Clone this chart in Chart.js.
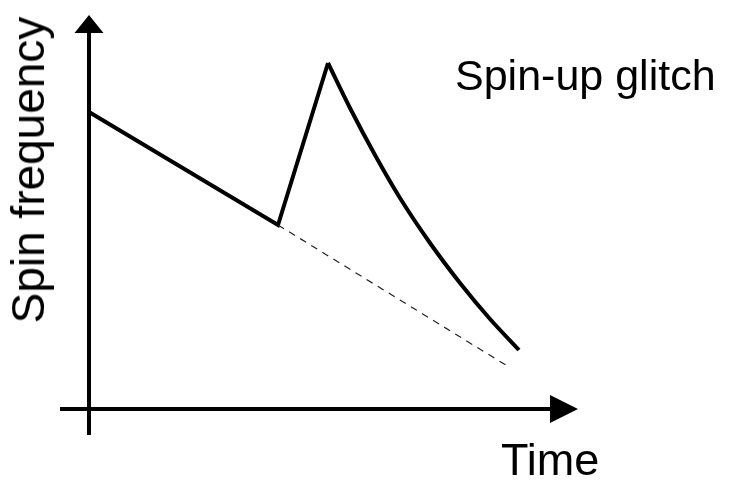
<!DOCTYPE html>
<html>
<head>
<meta charset="utf-8">
<title>Spin-up glitch</title>
<script src="https://cdn.jsdelivr.net/npm/chart.js@4/dist/chart.umd.min.js"></script>
<style>
    html, body { margin: 0; padding: 0; background: #fff; }
    .wrap { position: relative; width: 748px; height: 480px; font-family: 'Liberation Sans', Arial, sans-serif; color: #000; }
    .wrap canvas { position: absolute; left: 0; top: 0; }
    .lbl { position: absolute; font-size: 43px; line-height: 1; white-space: nowrap; }
    #lblGlitch { left: 455px; top: 54px; }
    #lblTime { left: 501px; top: 437px; font-size: 45px; }
    #lblFreq { left: 28px; top: 170px; font-size: 46px; transform: translate(-50%, -50%) rotate(-90deg); }
</style>
</head>
<body>
<div class="wrap">
    <canvas id="glitchChart" width="748" height="480"></canvas>
    <div class="lbl" id="lblGlitch">Spin-up glitch</div>
    <div class="lbl" id="lblTime">Time</div>
    <div class="lbl" id="lblFreq">Spin frequency</div>
</div>
<script>
// values in arbitrary units, origin where the two axes cross
const spinDown = [{ x: 0, y: 297 }, { x: 189, y: 184 }];
const glitchRise = [{ x: 189, y: 184 }, { x: 239, y: 346 }];
const recoveryT = [239, 261, 286, 311, 341, 371, 401, 430];
const recoveryF = [346, 301, 254, 211, 166, 126, 90, 59];
const extrapolated = [{ x: 189, y: 184 }, { x: 420, y: 42 }];
const timeAxis = [{ x: -29, y: 0 }, { x: 462, y: 0 }];
const freqAxis = [{ x: 0, y: -26 }, { x: 0, y: 377 }];
const xRange = [-89, 659];
const yRange = [-71, 409];

const recovery = recoveryT.map((t, i) => ({ x: t, y: recoveryF[i] }));

// arrow heads at the end of each axis
const arrowHeads = {
    id: 'arrowHeads',
    afterDatasetsDraw(chart) {
        const { ctx, scales: { x, y } } = chart;
        ctx.save();
        ctx.fillStyle = '#000';
        // vertical
        const x0 = x.getPixelForValue(0);
        ctx.beginPath();
        ctx.moveTo(x0, y.getPixelForValue(394));
        ctx.lineTo(x0 - 14.5, y.getPixelForValue(376));
        ctx.lineTo(x0 + 14.5, y.getPixelForValue(376));
        ctx.closePath();
        ctx.fill();
        // horizontal
        const y0 = y.getPixelForValue(0);
        ctx.beginPath();
        ctx.moveTo(x.getPixelForValue(489), y0);
        ctx.lineTo(x.getPixelForValue(461), y0 - 14);
        ctx.lineTo(x.getPixelForValue(461), y0 + 14);
        ctx.closePath();
        ctx.fill();
        ctx.restore();
    }
};

function line(data, opts) {
    return Object.assign({ data, borderColor: '#000', borderWidth: 4, pointRadius: 0, tension: 0, fill: false, clip: false }, opts);
}

document.addEventListener('DOMContentLoaded', () => {
    new Chart(document.getElementById('glitchChart'), {
        type: 'line',
        data: {
            datasets: [
                line(timeAxis, { borderCapStyle: 'butt' }),
                line(freqAxis, { borderCapStyle: 'butt' }),
                line(extrapolated, { borderWidth: 1.2, borderDash: [7, 6], borderColor: '#222' }),
                line(spinDown.concat(glitchRise.slice(1)), { borderJoinStyle: 'miter' }),
                line(recovery, { cubicInterpolationMode: 'monotone' })
            ]
        },
        options: {
            responsive: false,
            animation: false,
            layout: { padding: 0 },
            plugins: { legend: { display: false }, tooltip: { enabled: false } },
            scales: {
                x: { type: 'linear', min: xRange[0], max: xRange[1], display: false },
                y: { type: 'linear', min: yRange[0], max: yRange[1], display: false }
            }
        },
        plugins: [arrowHeads]
    });
});
</script>
</body>
</html>
